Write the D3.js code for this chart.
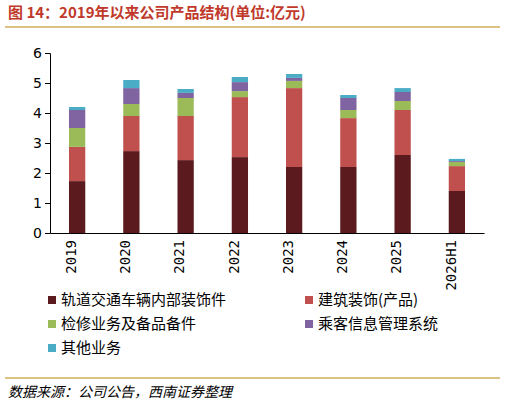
<!DOCTYPE html><html><head><meta charset="utf-8"><script src="https://cdn.jsdelivr.net/npm/d3@7"></script>
<style>body{margin:0;background:#fff;font-family:"Noto Sans CJK SC","Noto Sans",sans-serif}</style></head><body><svg id="c" width="507" height="408"></svg><script>
const categories=["2019","2020","2021","2022","2023","2024","2025","2026H1"];
const seriesNames=["轨道交通车辆内部装饰件","建筑装饰(产品)","检修业务及备品备件","乘客信息管理系统","其他业务"];
const s1=[1.73,2.73,2.43,2.53,2.2,2.2,2.6,1.4];
const s2=[1.14,1.17,1.47,2.0,2.63,1.63,1.5,0.83];
const s3=[0.63,0.4,0.6,0.2,0.24,0.27,0.3,0.14];
const s4=[0.6,0.53,0.17,0.3,0.1,0.4,0.3,0.03];
const s5=[0.1,0.27,0.13,0.17,0.13,0.1,0.13,0.07];
const yTicks=[0,1,2,3,4,5,6];
const colors=["#5b1a1e","#c0504d","#9bbb59","#8064a2","#4bacc6"];
const svg=d3.select("#c");
svg.append("text").attr("x",8).attr("y",18).attr("fill","#c0392b").attr("font-size",15).attr("font-weight","bold").text("图 14：2019年以来公司产品结构(单位:亿元)");
svg.append("line").attr("x1",5).attr("x2",500).attr("y1",27).attr("y2",27).attr("stroke","#b8860b").attr("stroke-width",1);
const x=d3.scaleBand().domain(categories).range([50,484]).paddingInner(0.7).paddingOuter(0.35);
const y=d3.scaleLinear().domain([0,6]).range([233,53]);
const data=categories.map((c,i)=>({c,v:[s1[i],s2[i],s3[i],s4[i],s5[i]]}));
data.forEach(d=>{let acc=0;d.v.forEach((v,k)=>{svg.append("rect").attr("x",x(d.c)).attr("width",x.bandwidth()).attr("y",y(acc+v)).attr("height",y(acc)-y(acc+v)).attr("fill",colors[k]);acc+=v;});});
const ya=svg.append("g").attr("transform","translate(50,0)").call(d3.axisLeft(y).tickValues(yTicks).tickSize(5).tickFormat(d3.format("d")));
ya.selectAll("text").attr("font-size",14).attr("font-family","DejaVu Sans").attr("fill","#000");
const xa=svg.append("g").attr("transform","translate(0,233)").call(d3.axisBottom(x).tickSize(0));
xa.select(".domain").attr("stroke","#000");
xa.selectAll("text").attr("font-size",14).attr("font-family","DejaVu Sans Mono").attr("fill","#000").attr("transform","rotate(-90)").attr("text-anchor","end").attr("dx","-0.5em").attr("dy","-0.3em");
const lp=[[48,305],[305,305],[48,329],[305,329],[48,353]];
seriesNames.forEach((n,i)=>{svg.append("rect").attr("x",lp[i][0]).attr("y",lp[i][1]-9).attr("width",8).attr("height",8).attr("fill",colors[i]);
svg.append("text").attr("x",lp[i][0]+13).attr("y",lp[i][1]).attr("font-size",15).attr("fill","#000").text(n);});
svg.append("line").attr("x1",5).attr("x2",500).attr("y1",378).attr("y2",378).attr("stroke","#b8860b");
svg.append("text").attr("x",8).attr("y",397).attr("font-size",14).attr("font-style","italic").attr("fill","#000").text("数据来源：公司公告，西南证券整理");
</script></body></html>
